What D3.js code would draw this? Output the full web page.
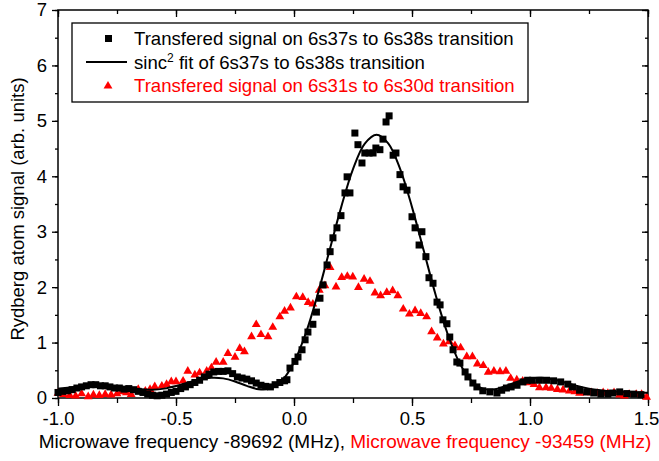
<!DOCTYPE html>
<html><head><meta charset="utf-8">
<script src="https://cdn.jsdelivr.net/npm/d3@7"></script>
<style>body{margin:0;background:#fff}svg{display:block}text{font-family:"Liberation Sans",Arial,sans-serif}</style>
</head><body>
<script>
const blackFreq = [-1.00,-0.98,-0.96,-0.94,-0.92,-0.90,-0.88,-0.86,-0.84,-0.82,-0.80,-0.78,-0.76,-0.74,-0.72,-0.70,-0.68,-0.66,-0.64,-0.62,-0.60,-0.58,-0.56,-0.54,-0.52,-0.50,-0.48,-0.46,-0.44,-0.42,-0.40,-0.38,-0.36,-0.34,-0.32,-0.30,-0.28,-0.26,-0.24,-0.22,-0.20,-0.18,-0.16,-0.14,-0.12,-0.10,-0.08,-0.06,-0.04,-0.03,-0.017,0.004,0.017,0.034,0.047,0.059,0.080,0.095,0.110,0.123,0.140,0.153,0.165,0.182,0.199,0.216,0.225,0.237,0.258,0.271,0.288,0.300,0.318,0.335,0.347,0.364,0.377,0.390,0.403,0.420,0.432,0.449,0.462,0.479,0.500,0.513,0.530,0.542,0.559,0.572,0.589,0.606,0.619,0.631,0.648,0.660,0.674,0.690,0.703,0.725,0.737,0.758,0.775,0.800,0.830,0.860,0.880,0.900,0.920,0.945,0.970,0.990,1.010,1.040,1.070,1.100,1.130,1.160,1.180,1.210,1.240,1.270,1.300,1.330,1.350,1.380,1.410,1.440,1.470];
const blackSignal = [0.10,0.12,0.13,0.15,0.18,0.20,0.22,0.24,0.24,0.22,0.22,0.20,0.18,0.18,0.16,0.17,0.15,0.12,0.10,0.07,0.05,0.04,0.05,0.07,0.10,0.12,0.17,0.20,0.24,0.28,0.32,0.38,0.43,0.47,0.48,0.48,0.49,0.44,0.38,0.36,0.34,0.31,0.27,0.23,0.21,0.20,0.24,0.28,0.31,0.33,0.54,0.66,0.74,0.87,1.05,1.19,1.33,1.55,1.80,2.04,2.40,2.64,2.89,3.07,3.29,3.70,3.99,3.70,4.78,4.57,4.24,4.42,4.42,4.42,4.51,4.48,4.67,4.98,5.09,4.38,4.42,4.03,3.81,3.75,3.27,3.07,2.76,3.00,2.55,2.17,2.07,1.73,1.68,1.41,1.34,1.10,0.87,0.65,0.63,0.47,0.38,0.27,0.20,0.13,0.11,0.09,0.14,0.18,0.20,0.23,0.29,0.32,0.32,0.32,0.32,0.31,0.29,0.25,0.20,0.14,0.11,0.09,0.07,0.07,0.09,0.11,0.08,0.07,0.06];

const fitFreq = [-1.00,-0.95,-0.90,-0.85,-0.80,-0.75,-0.70,-0.65,-0.60,-0.55,-0.50,-0.45,-0.40,-0.35,-0.30,-0.25,-0.20,-0.15,-0.10,-0.05,0.00,0.05,0.10,0.15,0.20,0.25,0.30,0.35,0.40,0.45,0.50,0.55,0.60,0.65,0.70,0.75,0.80,0.85,0.90,0.95,1.00,1.05,1.10,1.15,1.20,1.25,1.30,1.35,1.40,1.45,1.50];
const fitSignal = [0.168,0.190,0.212,0.225,0.223,0.206,0.180,0.157,0.150,0.169,0.215,0.276,0.334,0.365,0.354,0.299,0.219,0.157,0.170,0.318,0.646,1.168,1.862,2.655,3.444,4.130,4.590,4.750,4.590,4.130,3.444,2.655,1.862,1.168,0.646,0.318,0.170,0.157,0.219,0.299,0.354,0.365,0.334,0.276,0.215,0.169,0.140,0.120,0.110,0.100,0.095];

const redFreq = [-1.000,-0.977,-0.950,-0.925,-0.900,-0.872,-0.850,-0.825,-0.800,-0.775,-0.750,-0.730,-0.710,-0.690,-0.660,-0.630,-0.610,-0.590,-0.560,-0.540,-0.520,-0.500,-0.470,-0.450,-0.420,-0.400,-0.370,-0.350,-0.330,-0.300,-0.280,-0.250,-0.230,-0.210,-0.180,-0.160,-0.140,-0.110,-0.090,-0.060,-0.040,-0.015,0.010,0.037,0.060,0.080,0.107,0.131,0.153,0.178,0.202,0.226,0.249,0.273,0.297,0.322,0.343,0.367,0.393,0.418,0.440,0.463,0.489,0.513,0.537,0.562,0.583,0.607,0.633,0.658,0.682,0.706,0.732,0.756,0.777,0.802,0.823,0.847,0.873,0.898,0.918,0.944,0.969,0.993,1.017,1.040,1.068,1.090,1.116,1.140,1.167,1.190,1.210,1.237,1.260,1.285,1.310,1.330,1.356,1.380,1.400,1.420,1.450,1.473,1.494];
const redSignal = [0.10,0.08,0.06,0.05,0.09,0.04,0.07,0.06,0.08,0.07,0.09,0.13,0.11,0.08,0.17,0.14,0.17,0.22,0.23,0.26,0.31,0.31,0.32,0.50,0.43,0.47,0.50,0.56,0.66,0.66,0.82,0.75,0.91,0.85,1.12,1.34,1.16,1.12,1.29,1.48,1.58,1.64,1.84,1.83,1.74,1.71,1.96,2.04,2.37,2.02,2.19,2.21,2.20,2.01,2.16,2.12,1.91,1.86,1.92,1.95,1.86,1.62,1.53,1.59,1.54,1.48,1.21,1.10,0.99,1.03,0.96,0.92,0.76,0.76,0.63,0.60,0.48,0.50,0.49,0.50,0.37,0.34,0.32,0.29,0.26,0.20,0.20,0.19,0.17,0.16,0.14,0.13,0.10,0.11,0.11,0.10,0.11,0.10,0.11,0.07,0.05,0.08,0.08,0.08,0.03];

const xTicks = [-1.0,-0.5,0.0,0.5,1.0,1.5];
const xTickLabels = ["-1.0","-0.5","0.0","0.5","1.0","1.5"];
const yTicks = [0,1,2,3,4,5,6,7];
const yTickLabels = ["0","1","2","3","4","5","6","7"];
const legendLabels = ["Transfered signal on 6s37s to 6s38s transition","sinc","Transfered signal on 6s31s to 6s30d transition"];
const xLabelParts = ["Microwave frequency -89692 (MHz), ","Microwave frequency -93459 (MHz)"];
const yLabel = "Rydberg atom signal (arb. units)";

const W = 659, H = 461;
const L = 58, R = 648, T = 10, B = 398;
const RED = "#ff0000";
const FS = 18.6;

const svg = d3.select("body").append("svg").attr("width", W).attr("height", H);
const x = d3.scaleLinear().domain([-1.0, 1.5]).range([L, R]);
const y = d3.scaleLinear().domain([0, 7]).range([B, T]);

// ticks
const gx = svg.append("g").attr("transform", `translate(0,${B})`)
  .call(d3.axisBottom(x).tickValues(d3.range(-1.0, 1.51, 0.25)).tickSize(5).tickFormat(() => ""));
const gxMaj = svg.append("g").attr("transform", `translate(0,${B})`)
  .call(d3.axisBottom(x).tickValues(xTicks).tickSize(8).tickPadding(6).tickFormat((d, i) => xTickLabels[i]));
const gy = svg.append("g").attr("transform", `translate(${L},0)`)
  .call(d3.axisLeft(y).tickValues(d3.range(0, 7.01, 0.5)).tickSize(3).tickFormat(() => ""));
const gyMaj = svg.append("g").attr("transform", `translate(${L},0)`)
  .call(d3.axisLeft(y).tickValues(yTicks).tickSize(6).tickPadding(5).tickFormat((d, i) => yTickLabels[i]));
const gt = svg.append("g").attr("transform", `translate(0,${T})`)
  .call(d3.axisTop(x).tickValues(d3.range(-1.0, 1.51, 0.25)).tickSize(-4).tickFormat(() => ""));
const gtM = svg.append("g").attr("transform", `translate(0,${T})`)
  .call(d3.axisTop(x).tickValues(xTicks).tickSize(-7).tickFormat(() => ""));
const gr = svg.append("g").attr("transform", `translate(${R},0)`)
  .call(d3.axisRight(y).tickValues(d3.range(0, 7.01, 0.5)).tickSize(-3).tickFormat(() => ""));
const grM = svg.append("g").attr("transform", `translate(${R},0)`)
  .call(d3.axisRight(y).tickValues(yTicks).tickSize(-6).tickFormat(() => ""));
[gx, gxMaj, gy, gyMaj, gt, gtM, gr, grM].forEach(g => {
  g.select(".domain").remove();
  g.selectAll("line").attr("stroke", "#000").attr("stroke-width", 1.3);
  g.selectAll("text").attr("fill", "#000").style("font-size", "18.5px").style("font-family", '"Liberation Sans",Arial,sans-serif');
});
// keep the last x tick label inside the window
gxMaj.selectAll(".tick text").filter(d => d === 1.5).attr("dx", -2);
svg.append("rect").attr("x", L).attr("y", T).attr("width", R - L).attr("height", B - T)
  .attr("fill", "none").attr("stroke", "#000").attr("stroke-width", 1.5);

// data
const plot = svg.append("g");
const blackData = blackFreq.map((f, i) => [f, blackSignal[i]]);
const redData = redFreq.map((f, i) => [f, redSignal[i]]);
const fitData = fitFreq.map((f, i) => [f, fitSignal[i]]);

const tri = d3.symbol().type(d3.symbolTriangle).size(34);
plot.selectAll(".red").data(redData).join("path").attr("class", "red")
  .attr("d", tri).attr("transform", d => `translate(${x(d[0])},${y(d[1]) + 0.8})`).attr("fill", RED);

plot.selectAll(".blk").data(blackData).join("rect").attr("class", "blk")
  .attr("x", d => x(d[0]) - 3.5).attr("y", d => y(d[1]) - 3.5).attr("width", 7).attr("height", 7).attr("fill", "#000");

const line = d3.line().x(d => x(d[0])).y(d => y(d[1])).curve(d3.curveCatmullRom.alpha(0.5));
plot.append("path").datum(fitData).attr("d", line).attr("fill", "none").attr("stroke", "#000").attr("stroke-width", 2);

// legend
const lg = svg.append("g");
lg.append("rect").attr("x", 72).attr("y", 23).attr("width", 456).attr("height", 79)
  .attr("fill", "#fff").attr("stroke", "#000").attr("stroke-width", 1.3);
lg.append("rect").attr("x", 105).attr("y", 35).attr("width", 7).attr("height", 7).attr("fill", "#000");
lg.append("line").attr("x1", 86).attr("x2", 127).attr("y1", 62).attr("y2", 62).attr("stroke", "#000").attr("stroke-width", 2);
lg.append("path").attr("d", tri).attr("transform", "translate(108,86)").attr("fill", RED);
lg.append("text").attr("x", 134).attr("y", 45).style("font-size", FS + "px").attr("fill", "#000").text(legendLabels[0]);
const t2 = lg.append("text").attr("x", 134).attr("y", 69).style("font-size", FS + "px").attr("fill", "#000");
t2.append("tspan").text(legendLabels[1]);
t2.append("tspan").attr("dy", -7).style("font-size", "12px").text("2");
t2.append("tspan").attr("dy", 7).text(" fit of 6s37s to 6s38s transition");
lg.append("text").attr("x", 134).attr("y", 92).style("font-size", FS + "px").attr("fill", RED).text(legendLabels[2]);

// axis titles
const xt = svg.append("text").attr("x", 345).attr("y", 448).attr("text-anchor", "middle").style("font-size", "19px");
xt.append("tspan").attr("fill", "#000").text(xLabelParts[0]);
xt.append("tspan").attr("fill", RED).text(xLabelParts[1]);
svg.append("text").attr("transform", `translate(24,${(T + B) / 2 + 5}) rotate(-90)`).attr("text-anchor", "middle")
  .style("font-size", "18.5px").attr("fill", "#000").text(yLabel);
</script>
</body></html>
